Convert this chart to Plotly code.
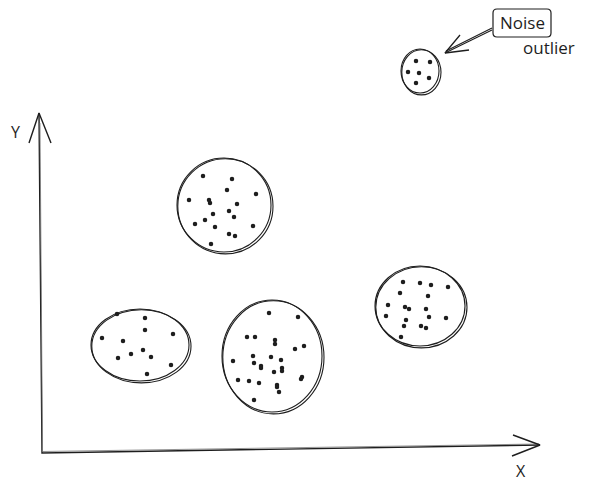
import plotly.graph_objects as go

# ======================================================
# DADOS (unidades do eixo: origem no canto dos eixos)
# ======================================================
noise_x = [374, 388, 366, 377, 387, 374]
noise_y = [392, 391, 381, 380, 375, 370]

c_top_x = [161, 190, 185, 214, 147, 167, 168, 195, 187, 171, 192, 163, 153, 211, 173, 187, 193, 169]
c_top_y = [277, 274, 263, 259, 253, 253, 250, 249, 242, 239, 236, 233, 229, 227, 226, 219, 217, 209]

c_left_x = [75, 103, 103, 131, 60, 81, 101, 89, 109, 76, 129, 105]
c_left_y = [139, 135, 123, 119, 115, 112, 103, 99, 96, 95, 88, 79]

c_mid_x = [227, 256, 205, 213, 233, 233, 262, 253, 191, 211, 229, 239, 212, 219, 219, 240, 240, 232,
           260, 259, 196, 207, 217, 235, 235, 237, 212]
c_mid_y = [140, 136, 116, 116, 113, 109, 107, 104, 92, 97, 96, 93, 90, 87, 85, 85, 82, 81,
           76, 74, 73, 72, 70, 68, 66, 61, 53]

c_right_x = [361, 378, 389, 406, 358, 386, 346, 363, 367, 384, 344, 364, 387, 404, 362, 379, 384, 359]
c_right_y = [171, 170, 168, 166, 160, 157, 148, 146, 144, 144, 137, 133, 136, 135, 127, 127, 125, 116]

# contornos dos grupos: centro x, centro y, raio x, raio y
contornos = [
    (378, 382, 19, 22),
    (182, 248, 47, 47),
    (98, 108, 49, 36),
    (230, 97, 50, 56),
    (378, 147, 45, 40),
]

COR = "#1e1e1e"
FONTE = "Open Sans"

fig = go.Figure()

for xs, ys in [(noise_x, noise_y), (c_top_x, c_top_y), (c_left_x, c_left_y),
               (c_mid_x, c_mid_y), (c_right_x, c_right_y)]:
    fig.add_trace(go.Scatter(x=xs, y=ys, mode="markers",
                             marker=dict(size=4.5, color=COR), hoverinfo="skip"))

# circulos "desenhados a mao" (traco duplo)
for cx, cy, rx, ry in contornos:
    for dx, dy, dr in [(0, 0, 0), (0.8, -0.7, 1.2)]:
        fig.add_shape(type="circle", xref="x", yref="y",
                      x0=cx - rx + dx, x1=cx + rx + dx + dr,
                      y0=cy - ry + dy - dr, y1=cy + ry + dy,
                      line=dict(color=COR, width=1.1))

# eixos com setas
fig.add_trace(go.Scatter(x=[-3, 0, 498], y=[340, 0, 8], mode="lines",
                         line=dict(color=COR, width=1.4), hoverinfo="skip"))
fig.add_trace(go.Scatter(x=[-2, 0.5, 497], y=[330, 1.5, 9], mode="lines",
                         line=dict(color="#777777", width=0.8), hoverinfo="skip"))
fig.add_trace(go.Scatter(x=[-13, -3, 9], y=[310, 340, 310], mode="lines",
                         line=dict(color=COR, width=1.4), hoverinfo="skip"))
fig.add_trace(go.Scatter(x=[471, 498, 470], y=[18, 8, -3], mode="lines",
                         line=dict(color=COR, width=1.4), hoverinfo="skip"))

# seta do "Noise outlier"
fig.add_trace(go.Scatter(x=[450, 403], y=[423, 400], mode="lines",
                         line=dict(color=COR, width=1.1), hoverinfo="skip"))
fig.add_trace(go.Scatter(x=[450, 404], y=[425, 402], mode="lines",
                         line=dict(color=COR, width=1.1), hoverinfo="skip"))
fig.add_trace(go.Scatter(x=[418, 403, 427], y=[418, 400, 403], mode="lines",
                         line=dict(color=COR, width=1.3), hoverinfo="skip"))

# caixa arredondada
x0, x1, y0, y1, r = 451, 509, 416, 444, 4
fig.add_shape(type="path", xref="x", yref="y",
              path=(f"M {x0+r},{y0} L {x1-r},{y0} Q {x1},{y0} {x1},{y0+r} L {x1},{y1-r} "
                    f"Q {x1},{y1} {x1-r},{y1} L {x0+r},{y1} Q {x0},{y1} {x0},{y1-r} "
                    f"L {x0},{y0+r} Q {x0},{y0} {x0+r},{y0} Z"),
              line=dict(color=COR, width=1.2))

textos = [("Noise", 480, 431, 17), ("outlier", 507, 406, 17), ("Y", -27, 321, 16), ("X", 479, -18, 16)]
for t, x, y, s in textos:
    fig.add_annotation(x=x, y=y, text=t, showarrow=False,
                       font=dict(family=FONTE, size=s, color=COR))

# a pagina tem margem de 8px no body: faixas deslocadas para compensar
fig.update_layout(
    width=594, height=492,
    margin=dict(l=0, r=0, t=0, b=0),
    paper_bgcolor="white", plot_bgcolor="white",
    showlegend=False,
    xaxis=dict(range=[-34, 560], visible=False, fixedrange=True),
    yaxis=dict(range=[-47, 445], visible=False, fixedrange=True),
)

fig.write_html("out.html")
